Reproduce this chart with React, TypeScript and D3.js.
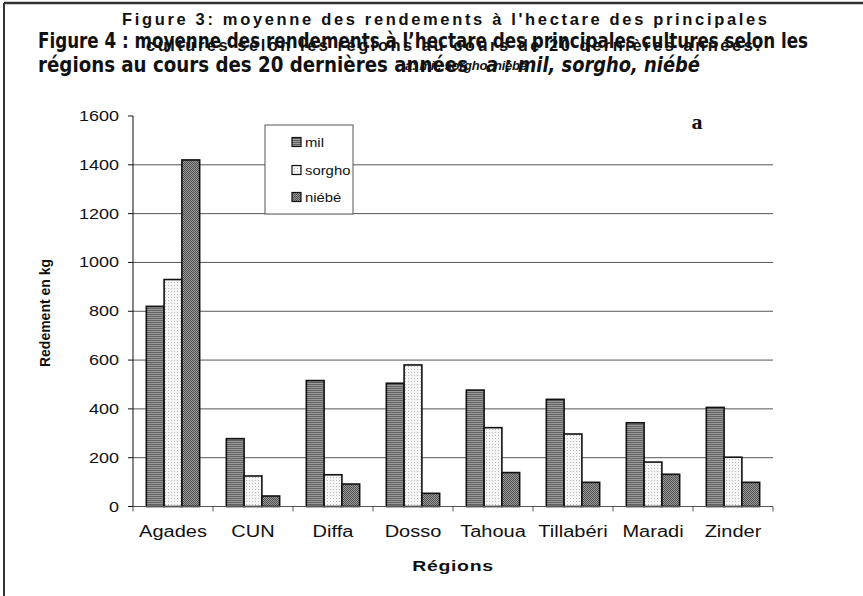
import React from "react";
import * as d3 from "d3";

const regions = ["Agades", "CUN", "Diffa", "Dosso", "Tahoua", "Tillabéri", "Maradi", "Zinder"];
const mil = [820, 278, 516, 505, 477, 439, 343, 406];
const sorgho = [930, 125, 130, 580, 323, 297, 182, 202];
const niebe = [1420, 43, 92, 54, 139, 99, 132, 99];
const seriesNames = ["mil", "sorgho", "niébé"];
const yTicks = [0, 200, 400, 600, 800, 1000, 1200, 1400, 1600];

const W = 863, H = 596;
const L = 133, R = 773, T = 116, B = 506.5;

export default function App() {
  const x = d3.scaleBand<string>().domain(regions).range([L, R]).padding(0);
  const gap = 1.5;
  const bw = x.bandwidth() / (3 + gap);
  const sub = d3.scaleBand<string>().domain(seriesNames).range([bw * gap / 2, bw * gap / 2 + 3 * bw]).padding(0);
  const y = d3.scaleLinear().domain([0, 1600]).range([B, T]);
  const series = [mil, sorgho, niebe];
  const fills = ["url(#pMil)", "url(#pSorgho)", "url(#pNiebe)"];
  const arial = "Liberation Sans, Arial, Helvetica, sans-serif";
  const narrow = "'Liberation Sans Narrow', 'Arial Narrow', 'DejaVu Sans Condensed', sans-serif";

  const legX = 265, legY = 125, legW = 88, legH = 89;
  const legItemsY = [142, 170, 197];

  return (
    <svg width={W} height={H} style={{ position: "absolute", left: 0, top: 0, background: "#fff" }}>
      <defs>
        <pattern id="pMil" width="4" height="2" patternUnits="userSpaceOnUse">
          <rect width="4" height="2" fill="#9c9c9c" />
          <rect width="4" height="1" fill="#606060" />
        </pattern>
        <pattern id="pSorgho" width="3" height="3" patternUnits="userSpaceOnUse">
          <rect width="3" height="3" fill="#f6f6f6" />
          <rect width="1" height="1" fill="#b8b8b8" />
        </pattern>
        <pattern id="pNiebe" width="2" height="2" patternUnits="userSpaceOnUse">
          <rect width="2" height="2" fill="#9a9a9a" />
          <rect width="1" height="1" fill="#505050" />
          <rect x="1" y="1" width="1" height="1" fill="#505050" />
        </pattern>
      </defs>
      <rect x={0} y={0} width={W} height={H} fill="#fff" />
      {/* frame */}
      <line x1={4} y1={3} x2={W} y2={3} stroke="#333" strokeWidth={2.5} />
      <line x1={4} y1={3} x2={4} y2={H} stroke="#333" strokeWidth={2} />

      {/* titles */}
      <text x={122} y={25} textLength={645} lengthAdjust="spacing" fontFamily={arial} fontWeight="bold" fontSize={16.5} fill="#111">
        Figure 3: moyenne des rendements à l'hectare des principales
      </text>
      <text x={38} y={48} textLength={770} lengthAdjust="spacingAndGlyphs" fontFamily={narrow} fontWeight="bold" fontSize={21} fill="#111">
        Figure 4 : moyenne des rendements à l’hectare des principales cultures selon les
      </text>
      <text x={146} y={51} textLength={614} lengthAdjust="spacing" fontFamily={arial} fontWeight="bold" fontSize={16.5} fill="#111">
        cultures selon les régions au cours de 20 dernières années.
      </text>
      <text x={38} y={72} textLength={430} lengthAdjust="spacingAndGlyphs" fontFamily={narrow} fontWeight="bold" fontSize={21} fill="#111">
        régions au cours des 20 dernières années
      </text>
      <text x={405} y={70} textLength={122} lengthAdjust="spacing" fontFamily={arial} fontWeight="bold" fontStyle="italic" fontSize={13} fill="#111">
        a: mil, sorgho, niébé
      </text>
      <text x={486} y={72} textLength={214} lengthAdjust="spacingAndGlyphs" fontFamily={narrow} fontWeight="bold" fontStyle="italic" fontSize={21} fill="#111">
        a : mil, sorgho, niébé
      </text>

      {/* gridlines */}
      {yTicks.filter(t => t > 0 && t < 1600).map(t => (
        <line key={"g" + t} x1={L} x2={R} y1={y(t)} y2={y(t)} stroke="#555" strokeWidth={1} />
      ))}

      {/* bars */}
      {regions.map((r, i) => (
        <g key={r}>
          {series.map((s, j) => (
            <rect key={j}
              x={(x(r) as number) + (sub(seriesNames[j]) as number)}
              y={y(s[i])}
              width={bw}
              height={B - y(s[i])}
              fill={fills[j]}
              stroke="#111"
              strokeWidth={1.6}
            />
          ))}
        </g>
      ))}

      {/* axes */}
      <line x1={L} x2={R} y1={B} y2={B} stroke="#555" strokeWidth={1} />
      {d3.range(regions.length + 1).map(i => {
        const xx = L + i * x.step();
        return <line key={"xt" + i} x1={xx} x2={xx} y1={B} y2={B + 5} stroke="#555" strokeWidth={1} />;
      })}
      <line x1={L} x2={L} y1={T} y2={B} stroke="#111" strokeWidth={1} />
      {yTicks.map(t => (
        <g key={"yt" + t}>
          <line x1={L - 5} x2={L} y1={y(t)} y2={y(t)} stroke="#111" strokeWidth={1} />
          <text transform={`translate(119,${y(t) + 5}) scale(1.2,1)`} textAnchor="end" fontFamily={arial} fontSize={15} fill="#111">
            {t}
          </text>
        </g>
      ))}
      {regions.map(r => (
        <text key={"xl" + r} transform={`translate(${(x(r) as number) + x.bandwidth() / 2},537) scale(1.25,1)`} textAnchor="middle" fontFamily={arial} fontSize={16} fill="#111">
          {r}
        </text>
      ))}
      <text transform={`translate(453,571) scale(1.3,1)`} textAnchor="middle" fontFamily={arial} fontWeight="bold" fontSize={15} letterSpacing={0.5} fill="#111">
        Régions
      </text>
      <text transform={`translate(50,313) rotate(-90)`} textAnchor="middle" fontFamily={arial} fontWeight="bold" fontSize={14} fill="#111">
        Redement en kg
      </text>

      {/* legend */}
      <rect x={legX} y={legY} width={legW} height={legH} fill="#fff" stroke="#555" strokeWidth={1} />
      {seriesNames.map((n, j) => (
        <g key={"lg" + n}>
          <rect x={292} y={legItemsY[j] - 4.5} width={9} height={9} fill={fills[j]} stroke="#111" strokeWidth={1.2} />
          <text transform={`translate(305,${legItemsY[j] + 5}) scale(1.1,1)`} fontFamily={arial} fontSize={13.5} fill="#111">
            {n}
          </text>
        </g>
      ))}

      {/* panel label */}
      <text x={697} y={129} textAnchor="middle" fontFamily="'Liberation Serif', 'DejaVu Serif', serif" fontWeight="bold" fontSize={22} fill="#111">
        a
      </text>
    </svg>
  );
}
